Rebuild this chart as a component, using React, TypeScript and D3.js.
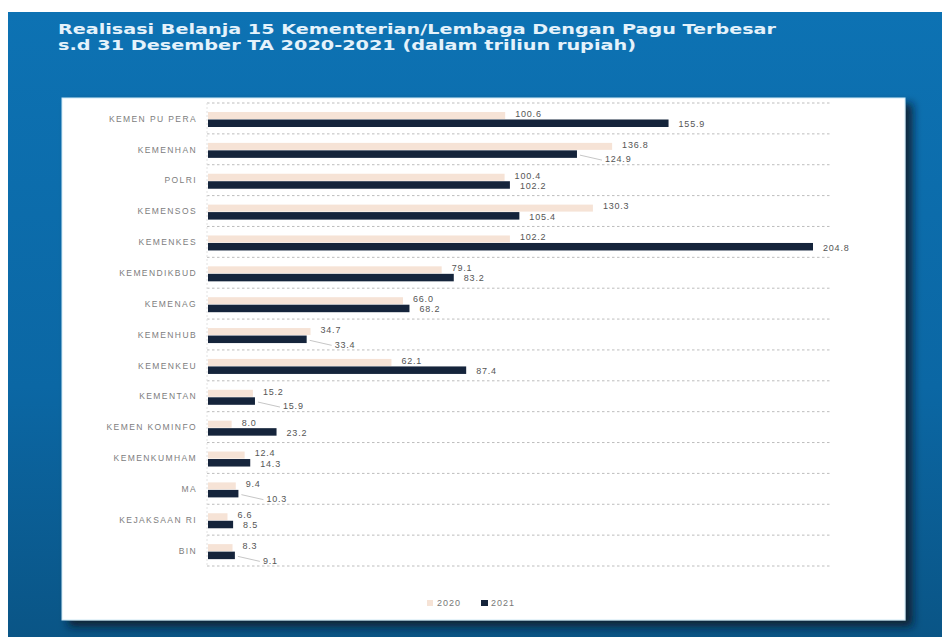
import React from "react";
import * as d3 from "d3";

const categories = [
  "KEMEN PU PERA",
  "KEMENHAN",
  "POLRI",
  "KEMENSOS",
  "KEMENKES",
  "KEMENDIKBUD",
  "KEMENAG",
  "KEMENHUB",
  "KEMENKEU",
  "KEMENTAN",
  "KEMEN KOMINFO",
  "KEMENKUMHAM",
  "MA",
  "KEJAKSAAN RI",
  "BIN",
];
const values2020 = [100.6, 136.8, 100.4, 130.3, 102.2, 79.1, 66.0, 34.7, 62.1, 15.2, 8.0, 12.4, 9.4, 6.6, 8.3];
const values2021 = [155.9, 124.9, 102.2, 105.4, 204.8, 83.2, 68.2, 33.4, 87.4, 15.9, 23.2, 14.3, 10.3, 8.5, 9.1];
const seriesNames = ["2020", "2021"];
const titleLines = [
  "Realisasi Belanja 15 Kementerian/Lembaga Dengan Pagu Terbesar",
  "s.d 31 Desember TA 2020-2021 (dalam triliun rupiah)",
];

const C_LIGHT = "#f6e3d6";
const C_DARK = "#15243b";
const FONT = "'Liberation Sans', Arial, sans-serif";

export default function App() {
  const W = 942;
  const H = 637;
  const y = d3.scaleBand<string>().domain(categories).range([103, 566]).padding(0);
  const x = d3.scaleLinear().domain([0, d3.max(values2021) as number]).range([208, 813]);
  const fmt = d3.format(".1f");
  const bw = y.bandwidth();
  const gridYs = categories.map((c) => y(c) as number).concat([566]);

  return (
    <svg
      width={W}
      height={H}
      style={{ position: "absolute", left: 0, top: 0, display: "block" }}
      fontFamily={FONT}
    >
      <defs>
        <linearGradient id="bg" x1="0" y1="0" x2="0" y2="1">
          <stop offset="0%" stopColor="#0d72b3" />
          <stop offset="60%" stopColor="#0b67a4" />
          <stop offset="100%" stopColor="#0a5586" />
        </linearGradient>
        <filter id="shadow" x="-5%" y="-5%" width="115%" height="115%">
          <feDropShadow dx="7" dy="6" stdDeviation="4" floodColor="#0a1626" floodOpacity="0.85" />
        </filter>
      </defs>
      <rect x={0} y={0} width={W} height={H} fill="#ffffff" />
      <rect x={8} y={12} width={W - 8} height={H - 12} fill="url(#bg)" />

      {titleLines.map((t, i) => (
        <text
          key={i}
          x={58}
          y={34 + i * 15.5}
          fill="#e4f2fb"
          fontSize={13.5}
          fontWeight="bold"
          fontFamily="'DejaVu Sans', 'Liberation Sans', Arial, sans-serif"
          textLength={i === 0 ? 718 : 578}
          lengthAdjust="spacingAndGlyphs"
        >
          {t}
        </text>
      ))}

      <rect x={62} y={98} width={843} height={522} fill="#ffffff" stroke="#cfe9f5" strokeWidth={1} filter="url(#shadow)" />

      {/* gridlines */}
      {gridYs.map((gy, i) => (
        <line key={i} x1={207} x2={830} y1={gy} y2={gy} stroke="#bdbdbd" strokeWidth={1} strokeDasharray="2.5,2.5" />
      ))}
      <line x1={207} x2={207} y1={103} y2={566} stroke="#e2e2e2" strokeWidth={1} strokeDasharray="2,2" />

      {categories.map((c, i) => {
        const top = y(c) as number;
        const v20 = values2020[i];
        const v21 = values2021[i];
        const e20 = x(v20);
        const e21 = x(v21);
        const lightY = top + 9;
        const darkY = top + 16.5;
        const lightC = lightY + 3.5;
        const darkC = darkY + 3.75;
        const diff = v21 - v20;
        const displaced = diff > -20 && diff <= 1.0;
        const l21x = displaced ? e21 + 28 : e21 + 10;
        const l21y = displaced ? darkC + 6 : darkC + 1.5;
        return (
          <g key={c}>
            <text
              x={197}
              y={top + bw / 2 + 1}
              textAnchor="end"
              dominantBaseline="middle"
              fontSize={8.5}
              letterSpacing={1.4}
              fill="#7d7d7d"
            >
              {c}
            </text>
            <rect x={x(0)} y={lightY} width={e20 - x(0)} height={7} fill={C_LIGHT} />
            <rect x={x(0)} y={darkY} width={e21 - x(0)} height={7.5} fill={C_DARK} />
            <text x={e20 + 10} y={lightC - 1} dominantBaseline="middle" fontSize={9} letterSpacing={0.8} fill="#555">
              {fmt(v20)}
            </text>
            {displaced && (
              <line x1={e21 + 3} y1={darkC + 1} x2={l21x - 3} y2={l21y} stroke="#b8b8b8" strokeWidth={0.8} />
            )}
            <text x={l21x} y={l21y} dominantBaseline="middle" fontSize={9} letterSpacing={0.8} fill="#555">
              {fmt(v21)}
            </text>
          </g>
        );
      })}

      {/* legend */}
      <g>
        <rect x={427} y={600} width={6} height={6} fill={C_LIGHT} />
        <text x={437} y={603.5} dominantBaseline="middle" fontSize={9} letterSpacing={1} fill="#777">
          {seriesNames[0]}
        </text>
        <rect x={481} y={600} width={7} height={6} fill={C_DARK} />
        <text x={491} y={603.5} dominantBaseline="middle" fontSize={9} letterSpacing={1} fill="#777">
          {seriesNames[1]}
        </text>
      </g>
    </svg>
  );
}
